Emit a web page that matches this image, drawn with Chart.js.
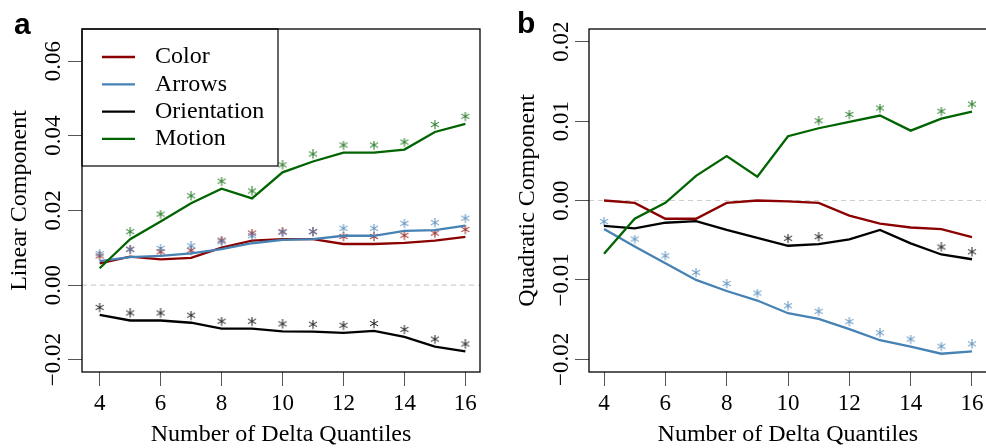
<!DOCTYPE html>
<html><head><meta charset="utf-8">
<script src="https://cdn.jsdelivr.net/npm/chart.js@4/dist/chart.umd.min.js"></script>
<style>
html,body{margin:0;padding:0;background:#fff;}
body{width:986px;height:448px;overflow:hidden;position:relative;}
canvas{position:absolute;top:0;}
.lab{position:absolute;font:bold 30px "Liberation Sans",Arial,sans-serif;line-height:30px;color:#000;}
</style></head><body>
<canvas id="ca" width="493" height="448" style="left:0px"></canvas>
<canvas id="cb" width="500" height="448" style="left:493px"></canvas>
<div class="lab" style="left:14px;top:9px">a</div>
<div class="lab" style="left:517px;top:8px">b</div>
<script>
// ---- data ----
const quantiles = [4, 5, 6, 7, 8, 9, 10, 11, 12, 13, 14, 15, 16];
const seriesNames = ['Color', 'Arrows', 'Orientation', 'Motion'];
const seriesColors = ['#8b0000', '#4682b4', '#000000', '#006400'];

// Linear component (panel a)
const linColor  = [0.0058, 0.0076, 0.0069, 0.0073, 0.0100, 0.0119, 0.0123, 0.0123, 0.0110, 0.0110, 0.0113, 0.0119, 0.0129];
const linArrows = [0.0064, 0.0075, 0.0078, 0.0085, 0.0096, 0.0112, 0.0121, 0.0123, 0.0132, 0.0132, 0.0145, 0.0147, 0.0159];
const linOrient = [-0.0080, -0.0095, -0.0095, -0.0101, -0.0117, -0.0117, -0.0124, -0.0125, -0.0128, -0.0123, -0.0139, -0.0165, -0.0178];
const linMotion = [0.0045, 0.0123, 0.0170, 0.0219, 0.0258, 0.0232, 0.0302, 0.0331, 0.0355, 0.0355, 0.0363, 0.0410, 0.0432];
// significance flags (asterisks), panel a
const sigLinColor  = [1,1,1,1,1,1,1,1,1,1,1,1,1];
const sigLinArrows = [1,1,1,1,1,1,1,1,1,1,1,1,1];
const sigLinOrient = [1,1,1,1,1,1,1,1,1,1,1,1,1];
const sigLinMotion = [0,1,1,1,1,1,1,1,1,1,1,1,1];

// Quadratic component (panel b)
const quadColor  = [0.0000, -0.0003, -0.0023, -0.0023, -0.0003, 0.0000, -0.0001, -0.0003, -0.0019, -0.0029, -0.0034, -0.0036, -0.0046];
const quadArrows = [-0.0036, -0.0058, -0.0079, -0.0100, -0.0114, -0.0126, -0.0142, -0.0149, -0.0162, -0.0176, -0.0184, -0.0193, -0.0190];
const quadOrient = [-0.0032, -0.0035, -0.0028, -0.0026, -0.0037, -0.0047, -0.0057, -0.0055, -0.0049, -0.0037, -0.0054, -0.0068, -0.0074];
const quadMotion = [-0.0067, -0.0023, -0.0003, 0.0031, 0.0056, 0.0030, 0.0081, 0.0091, 0.0099, 0.0107, 0.0088, 0.0103, 0.0112];
// significance flags, panel b
const sigQuadColor  = [0,0,0,0,0,0,0,0,0,0,0,0,0];
const sigQuadArrows = [1,1,1,1,1,1,1,1,1,1,1,1,1];
const sigQuadOrient = [0,0,0,0,0,0,1,1,0,0,0,1,1];
const sigQuadMotion = [0,0,0,0,0,0,0,1,1,1,0,1,1];

// ticks
const xTickValues = [4, 6, 8, 10, 12, 14, 16];
const xTickLabels = ['4', '6', '8', '10', '12', '14', '16'];
const linTickValues = [-0.02, 0.00, 0.02, 0.04, 0.06];
const linTickLabels = ['\u22120.02', '0.00', '0.02', '0.04', '0.06'];
const quadTickValues = [-0.02, -0.01, 0.00, 0.01, 0.02];
const quadTickLabels = ['\u22120.02', '\u22120.01', '0.00', '0.01', '0.02'];

const xTitle = 'Number of Delta Quantiles';
const linTitle = 'Linear Component';
const quadTitle = 'Quadratic Component';

// ---- rendering ----
const FONT = '"Liberation Serif", "Times New Roman", serif';
Chart.defaults.font.family = FONT;
Chart.defaults.color = '#000';

function asterisk(color) {
  const c = document.createElement('canvas');
  c.width = 24; c.height = 24;
  const g = c.getContext('2d');
  g.strokeStyle = color; g.lineWidth = 1.05; g.globalAlpha = 0.85;
  const cx = 12, cy = 12 - 7.5, r = 4.7;
  g.beginPath();
  for (let k = 0; k < 3; k++) {
    const ang = Math.PI / 2 + k * Math.PI / 3;
    g.moveTo(cx + r * Math.cos(ang), cy + r * Math.sin(ang));
    g.lineTo(cx - r * Math.cos(ang), cy - r * Math.sin(ang));
  }
  g.stroke();
  return c;
}

const mctx = document.createElement('canvas').getContext('2d');
mctx.font = '23px ' + FONT;

const framePlugin = {
  id: 'frame',
  beforeDatasetsDraw(chart) {
    const {ctx, chartArea: a, scales} = chart;
    const y0 = scales.y.getPixelForValue(0);
    ctx.save();
    ctx.strokeStyle = '#cfcfcf'; ctx.lineWidth = 1.2; ctx.setLineDash([5, 4]);
    ctx.beginPath(); ctx.moveTo(a.left, y0); ctx.lineTo(a.right, y0); ctx.stroke();
    ctx.restore();
  },
  afterDraw(chart) {
    const {ctx, chartArea: a} = chart;
    ctx.save();
    ctx.strokeStyle = '#000'; ctx.lineWidth = 1.3;
    ctx.strokeRect(a.left, a.top, a.right - a.left, a.bottom - a.top);
    ctx.restore();
  }
};

const legendPlugin = {
  id: 'rlegend',
  afterDraw(chart) {
    const {ctx, chartArea: a} = chart;
    ctx.save();
    ctx.strokeStyle = '#000'; ctx.lineWidth = 1.2;
    ctx.strokeRect(a.left, a.top, 196, 137);
    ctx.font = '24px ' + FONT;
    ctx.textBaseline = 'middle'; ctx.textAlign = 'left';
    chart.data.datasets.forEach((ds, i) => {
      const y = a.top + 28 + i * 27.3;
      ctx.strokeStyle = ds.borderColor; ctx.lineWidth = 2.3;
      ctx.beginPath(); ctx.moveTo(a.left + 20, y); ctx.lineTo(a.left + 53, y); ctx.stroke();
      ctx.fillStyle = '#000';
      ctx.fillText(ds.label, a.left + 73, y);
    });
    ctx.restore();
  }
};

function makeChart(id, series, sigs, g) {
  const datasets = series.map((vals, i) => ({
    label: seriesNames[i],
    data: quantiles.map((q, k) => ({x: q, y: vals[k]})),
    borderColor: seriesColors[i],
    backgroundColor: seriesColors[i],
    borderWidth: 2.3,
    tension: 0,
    fill: false,
    pointStyle: asterisk(seriesColors[i]),
    pointRadius: sigs[i].map(s => s ? 4 : 0),
    pointHoverRadius: 0,
    order: series.length - i,
    clip: false
  }));
  const widest = Math.max(...g.yLabels.map(l => mctx.measureText(l).width));
  const yPad = g.yWidth - 14 - g.yTickCenter - widest / 2;
  const plugins = [framePlugin];
  if (g.legend) plugins.push(legendPlugin);
  return new Chart(document.getElementById(id), {
    type: 'line',
    data: {datasets},
    plugins,
    options: {
      responsive: false, animation: false, devicePixelRatio: 1,
      layout: {padding: {top: 29, right: g.rightPad, bottom: 0, left: 0}},
      plugins: {legend: {display: false}, tooltip: {enabled: false}},
      events: [],
      scales: {
        x: {
          type: 'linear', min: g.xMin, max: g.xMax,
          afterBuildTicks: s => { s.ticks = xTickValues.map(v => ({value: v})); },
          afterFit: s => { s.height = 76; },
          ticks: {
            callback: (v, i) => xTickLabels[i],
            font: {size: 23, lineHeight: 1.2}, color: '#000', padding: 4.5,
            maxRotation: 0, autoSkip: false
          },
          grid: {display: true, drawOnChartArea: false, drawTicks: true, tickLength: 14, color: '#555', lineWidth: 1},
          border: {display: false},
          title: {display: true, text: xTitle, font: {size: 24, lineHeight: 1}, color: '#000', padding: {top: 0, bottom: 1}}
        },
        y: {
          type: 'linear', min: g.yMin, max: g.yMax,
          afterBuildTicks: s => { s.ticks = g.yTicks.map(v => ({value: v})); },
          afterFit: s => { s.width = g.yWidth; },
          ticks: {
            callback: (v, i) => g.yLabels[i],
            font: {size: 23, lineHeight: 1.2}, color: '#000',
            minRotation: 90, maxRotation: 90, crossAlign: 'center', padding: yPad, autoSkip: false
          },
          grid: {display: true, drawOnChartArea: false, drawTicks: true, tickLength: 14, color: '#555', lineWidth: 1},
          border: {display: false},
          title: {display: true, text: g.yTitle, font: {size: 24, lineHeight: 1}, color: '#000', padding: {top: g.yTitlePad, bottom: 0}}
        }
      }
    }
  });
}

makeChart('ca', [linColor, linArrows, linOrient, linMotion],
  [sigLinColor, sigLinArrows, sigLinOrient, sigLinMotion],
  {xMin: 3.42, xMax: 16.48, yMin: -0.0233, yMax: 0.0686, yTicks: linTickValues, yLabels: linTickLabels,
   yTitle: linTitle, yWidth: 82, rightPad: 13, yTickCenter: 53.5, yTitlePad: 8, legend: true});

makeChart('cb', [quadColor, quadArrows, quadOrient, quadMotion],
  [sigQuadColor, sigQuadArrows, sigQuadOrient, sigQuadMotion],
  {xMin: 3.51, xMax: 16.48, yMin: -0.0216, yMax: 0.0216, yTicks: quadTickValues, yLabels: quadTickLabels,
   yTitle: quadTitle, yWidth: 96, rightPad: 6, yTickCenter: 68.5, yTitlePad: 23, legend: false});
</script>
</body></html>
